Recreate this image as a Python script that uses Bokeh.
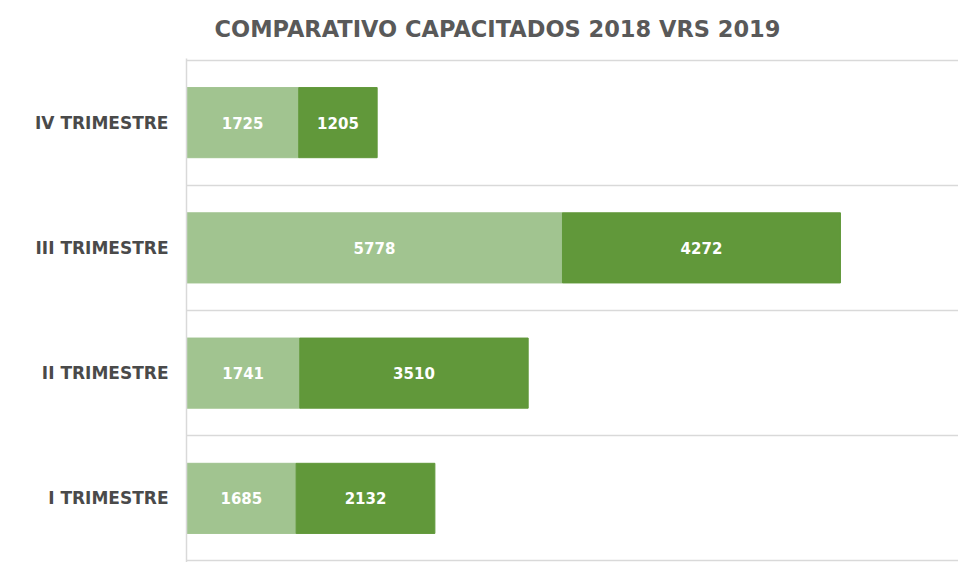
from bokeh.plotting import figure
from bokeh.models import ColumnDataSource, Range1d, FixedTicker
from bokeh.core.properties import value
from bokeh.embed import file_html
from bokeh.resources import INLINE

categories = ["I TRIMESTRE", "II TRIMESTRE", "III TRIMESTRE", "IV TRIMESTRE"]
v2018 = [1685, 1741, 5778, 1725]
v2019 = [2132, 3510, 4272, 1205]
title_text = "COMPARATIVO CAPACITADOS 2018 VRS 2019"

c2018 = "#A1C490"
c2019 = "#61983A"

ypos = [i + 0.5 for i in range(len(categories))]
end18 = list(v2018)
end19 = [a + b for a, b in zip(v2018, v2019)]

src = ColumnDataSource(dict(
    y=ypos,
    v18=v2018, v19=v2019,
    l18=[0] * len(v2018), r18=end18,
    l19=end18, r19=end19,
    m18=[v / 2 for v in v2018],
    m19=[a + b / 2 for a, b in zip(v2018, v2019)],
    t18=[str(v) for v in v2018],
    t19=[str(v) for v in v2019],
))

p = figure(width=958, height=562, output_backend="svg", toolbar_location=None,
           x_range=Range1d(0, 11864), y_range=Range1d(-0.012, 4.012))
p.min_border_left = 186
p.min_border_right = 0
p.min_border_bottom = 0
p.min_border_top = 58
p.outline_line_color = None

p.hbar(y="y", left="l18", right="r18", height=0.56, color=c2018, source=src)
p.hbar(y="y", left="l19", right="r19", height=0.56, color=c2019, source=src)

for xcol, tcol in (("m18", "t18"), ("m19", "t19")):
    p.text(x=xcol, y="y", text=tcol, source=src, text_align="center",
           text_baseline="middle", text_color="white",
           text_font=value("DejaVu Sans"), text_font_style="bold",
           text_font_size="15px")

p.xaxis.visible = False
p.xgrid.visible = False
p.ygrid.ticker = FixedTicker(ticks=[0, 1, 2, 3, 4])
p.ygrid.grid_line_color = "#D9D9D9"
p.ygrid.grid_line_width = 1.5

yax = p.yaxis[0]
yax.ticker = FixedTicker(ticks=ypos)
yax.major_label_overrides = {y: c for y, c in zip(ypos, categories)}
yax.major_tick_line_color = None
yax.minor_tick_line_color = None
yax.axis_line_color = "#D9D9D9"
yax.axis_line_width = 1.5
yax.major_label_text_font = "DejaVu Sans"
yax.major_label_text_font_style = "bold"
yax.major_label_text_font_size = "17px"
yax.major_label_text_color = "#4A4A4A"
yax.major_label_standoff = 12

p.title.text = title_text
p.title.align = "left"
p.title.offset = 28
p.title.vertical_align = "top"
p.title.text_font = "DejaVu Sans"
p.title.text_font_style = "bold"
p.title.text_font_size = "22.5px"
p.title.text_color = "#595959"
p.title.standoff = 30

open("out.html", "w").write(file_html(p, INLINE))
